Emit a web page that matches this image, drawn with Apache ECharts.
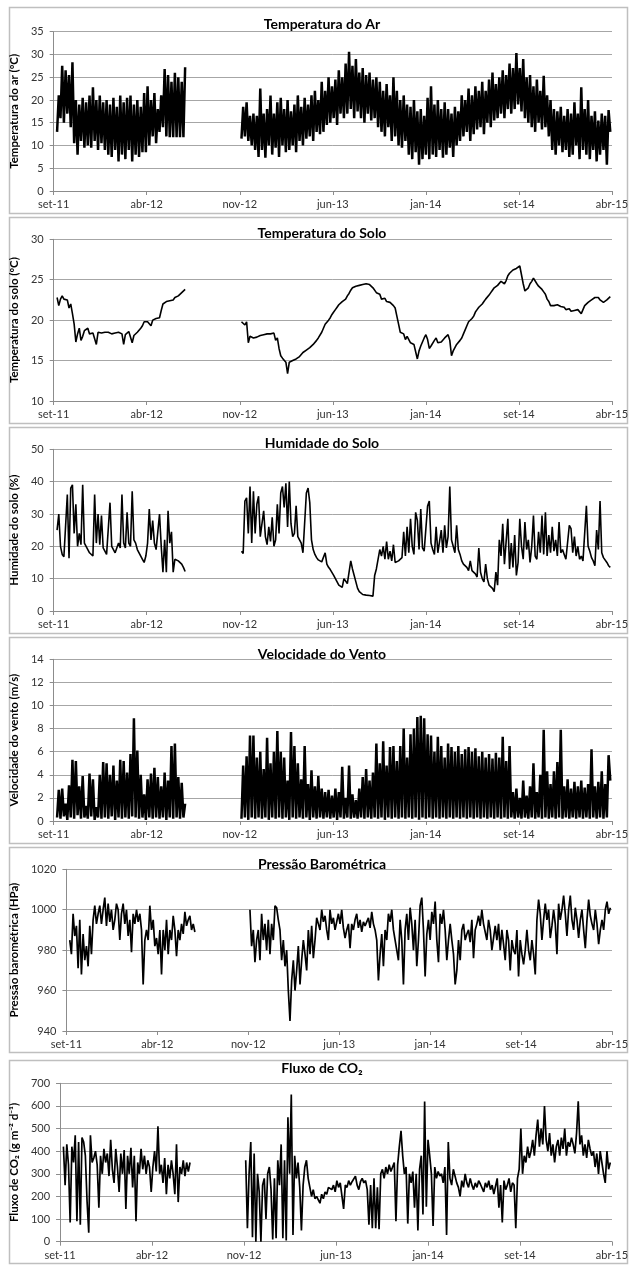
<!DOCTYPE html>
<html>
<head>
<meta charset="utf-8">
<script src="https://cdn.jsdelivr.net/npm/echarts@6/dist/echarts.min.js"></script>
<style>
html,body{margin:0;padding:0;background:#fff;}
#chart{width:633px;height:1265px;}
</style>
</head>
<body>
<div id="chart"></div>
<script>
// ---------------- DATA ----------------
// x axis: days since start of record (set-11); one tick every 218 days
const xTickLabels = ['set-11', 'abr-12', 'nov-12', 'jun-13', 'jan-14', 'set-14', 'abr-15'];
const tickDays = 218;
// sampling of the series: every 4 days, first block starts day 8, second block day 440
const startA = 8, startB = 440, stepDays = 4;

const titles = ['Temperatura do Ar', 'Temperatura do Solo', 'Humidade do Solo', 'Velocidade do Vento', 'Pressão Barométrica', 'Fluxo de CO₂'];
const yNames = ['Temperatura do ar (ºC)', 'Temperatura do solo (ºC)', 'Humidade do solo (%)', 'Velocidade do vento (m/s)', 'Pressão barométrica (HPa)', 'Fluxo de CO₂ (g m⁻² d⁻¹)'];
const yMin = [0, 10, 0, 0, 940, 0];
const yMax = [35, 30, 50, 14, 1020, 700];
const yStep = [5, 5, 10, 2, 20, 100];

const airTempA = [13,21,16,27.5,15,26.5,17,25.5,14,28.3, 10.5,20,8,19,11,20.5,9.5,19.5,10,21, 9.5,22.8,11,20,9,21,10.5,19.5,9,20,
  8,19,7.5,20.5,9,18.5,6.5,21,8,19.5, 7,20.5,9,21,6.5,19,8,20,7.5,18.5, 8.5,21.5,8.5,23,10,20,12,21.5,10.5,18,
  13,21,14,26.8,12,25.5,11.8,24,11.8,26, 11.8,25,11.8,24,11.8,27.2];
const airTempB = [11.5,18.5,12,19.5,11,16.5,10,17,9,16.5, 7.5,22.5,9,17,7.3,18,10,21,8,17, 9.5,19.5,7.5,20.5,10,18,8.5,20,9,17.5,
  10,19,8.5,21,11,18.5,10,20.5,11.5,19, 12,21,11,22,13,20,12.5,24,13,22, 14.5,25,15,23,16,24.5,14.5,26.5,17,25,
  16,28,17,30.6,18,27.5,16,29,17.5,26, 16,27,15,25.5,17,26,15.5,24.5,16,25, 14,24,13,22,12,23.5,14,21,11,25,
  12,22,10,20,9.5,21,11,19,8,18.5, 7,20,8.5,17.5,5.8,18,7,16.5,8,20.5, 7,23,8,19,7.5,20,9,18,7.3,19.5,
  8,18,9.5,17,7.5,18.5,10,17.5,11,21, 12,20,13,22.5,11,21,12.5,23,13.5,22, 14,24,12.5,22,15,24.5,14,26,15.5,23.5,
  16,25,17,26.5,16,25.5,18,28,17,27, 18,30.3,19,27,17.5,29,16,25,15,25.5, 14,23,13,24.5,15,22,13.5,25.3,14,21,
  12,20,9,18,8,17.5,10,18.5,8.5,16.5, 9,18,7.5,17,8,19.5,10,17,7,22.8, 9,18,8,20,7,16.5,9,17.5,6.5,15.5,
  8,17,9,16.5,5.8,17.8,13];

const soilTempA = [22.8,21.8,22.6,23,22.6,22.7,22.5,21.5,22,20.8, 19.5,17.3,18.3,19,17.5,18,18.7,18.5,19,18.3,
  18.5,18.4,18.6,17,18.5,18.5,18.4,18.3,18.5,18.4, 18.5,18.6,18.3,18.5,18.4,18.6,18.5,18.4,18.3,17,
  18.2,18.4,18.6,18.4,17.2,18.1,18.3,18.5,18.6,19, 19.3,19.8,20,19.8,19.9,19.3,20,20.1,20.2,20.1,
  20.3,21.2,22,22.1,22.3,22.2,22.4,22.6,22.5,22.8, 22.9,23,23.2,23.4,23.6,23.8];
const soilTempB = [19.8,19.9,19.4,19.8,17.2,18,17.9,17.8,18,17.9, 18,18.1,18,18.2,18.1,18.3,18.2,18.3,18.4,18.4,
  17.5,17.8,16.5,15.6,15.3,15.2,14.8,13.4,14.8,14.9, 15,15,15.2,15.4,15.5,15.7,16,16.2,16.3,16.5,
  16.6,16.8,17,17.2,17.5,17.8,18,18.5,19,19.5, 19.7,20,20.3,20.7,21,21.3,21.6,21.9,22.1,22.3,
  22.4,22.6,23,23.3,23.7,24,24.1,24.2,24.2,24.3, 24.3,24.4,24.4,24.5,24.5,24.4,24.3,24,23.8,23.4,
  23.3,23.2,22.6,22.5,22.7,22.3,22.4,22.2,22.1,21.8, 21.5,20.5,19.5,18.5,18.7,18.3,17.6,18,17.8,17.2,
  17.4,17,17.2,15.2,16.2,16.8,17.3,17.8,18.2,17.6, 16.5,16.8,17,17.5,17.8,17.2,17,17.3,17.5,17.8,
  18,18.2,17.5,15.6,16.2,16.6,17,17.2,17.5,17.8, 18.3,18.8,19.3,19.8,20,20.2,20.5,21,21.3,21.6,
  21.8,22,22.3,22.6,22.8,23.1,23.4,23.7,24,24, 24.3,24.5,24.8,24.6,24.5,24.9,25.5,25.8,26,26.2,
  26.3,26.4,26.6,26.7,26.7,24.5,23.6,23.8,24,24.5, 24.8,25.2,25,24.5,24.2,24,23.8,23.5,23.2,22.6,
  22.3,21.8,21.9,21.8,22,21.9,21.8,21.7,21.5,21.6, 21.3,21.2,21.4,21.1,21,21.2,21.1,21.3,21.2,20.8,
  21,21.8,22,22.2,22.4,22.5,22.6,22.8,22.7,22.8, 22.5,22.3,22.2,22.4,22.5,22.7,22.9];

const soilMoistA = [25,30,20,17.5,16.8,16.5,36,16.3,38,39, 24,33,20,24,20.5,39,21,20,19,18,
  17.5,17,36,21,30,20.5,29.5,19.5,18.5,17.5, 17,33.5,20,19,18,17.5,21,19.5,36,21,
  19.5,30.5,21,20,37,22,21,19,18,17, 16,15,17,21,31.5,22,28,21,19,18.5,
  30,20,12,22,12,31,21,24.5,12,16, 15.8,15.5,15,14.5,13.5,12.2];
const soilMoistB = [18.5,17.8,34,35,24,38.5,21,37,24,33, 35.5,23,22.5,31,23,20.5,26,21.5,29,20,
  22,33,24,36.5,38.5,32,39.5,26,40,27, 23,24,32.5,23,22,21,18,17.5,36.5,38,
  33.5,22,19,17.5,16.5,15.8,15.5,15.2,15,18, 14.5,13.5,12.8,12.5,11,10,9,8,7.6,7.3,
  10,9.5,8.5,8,15.5,13,13.5,9,7,6, 5.5,5.1,5,4.9,4.8,4.8,4.7,4.6,11,13,
  12.5,19,17,20,16,21.5,16,18.5,15.5,20.5, 15,14.5,15.5,16,16.5,24.5,17,26,18,28.5,
  20,17.5,30.5,28,19,31.5,19.5,18.5,19,32.5, 34,21,19,17.5,26,18,17.5,25,18,26.5,
  19.5,23,38.5,22,20,18,26.5,19,17.5,15.5, 14.5,14,13.5,12.5,15.5,12.5,12,11.5,10.5,19.5,
  12,10,9,14.5,10,8,7.5,7,6,12, 8,22,17,27,14.5,15,28.5,13,21,13.5,
  23.5,11,15,28.5,20,16,27.5,19,22,15, 20,29.5,17,16,24.5,18,29.5,17.5,30.5,17,
  23.5,18,26,18.5,22,17,27.5,18,19,17.5, 16,15.5,26.5,25.5,18,23,17,20,16,17,
  15.5,15.2,32.5,20,18.5,16.5,15.5,14,25,19, 34,18,16.5,16,15,14,13.5];

const windA = [0.3,2.7,0.2,2.8,0.4,1.5,0.1,3.1,0.3,5.3, 0.2,5.2,0.5,3.0,0.2,3.9,0.3,1.3,0.2,4.1,
  0.4,3.6,0.1,1.2,0.3,4.0,0.2,5.1,0.3,5.0, 0.2,4.0,0.4,4.8,0.1,3.5,0.3,5.3,0.2,5.2,
  0.3,4.2,0.2,5.8,0.4,8.9,0.3,6.1,0.2,4.0, 0.3,2.3,0.1,3.6,0.3,4.1,0.2,4.6,0.3,3.8,
  0.2,3.0,0.3,4.2,0.1,3.5,0.3,6.5,0.2,6.7, 0.3,3.8,0.2,3.3,0.3,1.5];
const windB = [0.2,4.8,0.3,5.6,0.1,7.4,0.3,7.4,0.2,5.5, 0.3,6.0,0.2,4.5,0.3,7.2,0.1,5.0,0.3,6.0,
  0.2,7.8,0.3,6.0,0.2,5.5,0.3,3.5,0.1,7.7, 0.3,6.5,0.2,5.0,0.3,3.6,0.2,6.5,0.3,3.2,
  0.1,4.4,0.3,3.0,0.2,3.9,0.3,2.8,0.2,2.5, 0.3,2.7,0.2,2.2,0.3,2.8,0.1,2.5,0.3,4.7,
  0.2,2.0,0.3,4.8,0.2,2.3,0.3,1.8,0.2,2.8, 0.3,3.8,0.2,4.5,0.3,3.5,0.2,4.2,0.3,6.7,
  0.2,5.0,0.3,6.9,0.1,4.8,0.3,6.4,0.2,6.5, 0.3,5.2,0.2,6.5,0.3,8.0,0.2,5.5,0.3,7.5,
  0.2,8.0,0.3,9.0,0.1,9.1,0.3,8.9,0.2,7.5, 0.3,7.4,0.2,6.0,0.3,7.3,0.2,6.5,0.3,5.5,
  0.2,6.7,0.3,6.4,0.2,6.0,0.3,6.5,0.2,5.8, 0.3,6.2,0.2,6.4,0.3,6.0,0.2,6.3,0.3,5.6,
  0.2,6.0,0.3,5.5,0.2,5.8,0.3,5.4,0.2,5.9, 0.3,5.5,0.2,7.3,0.3,5.2,0.2,6.5,0.3,2.5,
  0.2,2.8,0.3,2.0,0.2,3.5,0.3,2.2,0.2,3.0, 0.3,5.0,0.2,2.5,0.3,4.0,0.2,7.9,0.3,4.3,
  0.2,3.2,0.3,4.3,0.2,5.1,0.3,7.9,0.2,3.0, 0.3,3.6,0.2,2.8,0.3,3.4,0.2,3.0,0.3,3.5,
  0.2,2.9,0.3,3.2,0.2,6.2,0.3,3.0,0.2,3.4, 0.3,4.3,0.2,3.2,0.3,5.7,3.5];

const pressureA = [985,978,998,987,992,971,995,968,988,975, 982,972,992,978,995,1002,993,998,1002,993,
  1000,1006,992,1003,994,1000,990,995,1003,1000, 985,998,1003,993,1000,987,995,979,998,993,
  1000,994,998,990,963,985,990,985,1002,990, 995,982,986,978,990,968,990,980,995,978,
  990,985,997,990,977,990,985,993,988,999, 992,995,997,990,993,989];
const pressureB = [1000,982,990,974,985,990,975,998,985,993, 980,995,978,993,985,1002,1001,995,990,975,
  985,972,980,960,945,965,975,960,970,982, 963,975,985,978,970,990,978,992,976,985,
  996,993,990,1000,994,997,990,985,1000,993, 996,990,994,998,993,1000,991,986,990,993,
  981,993,990,995,998,991,995,989,994,992, 994,996,991,999,993,990,985,965,978,988,
  972,990,985,998,994,1000,990,985,980,975, 995,985,963,990,998,985,1001,993,980,995,
  972,985,1002,1006,990,967,988,995,985,999, 993,1004,985,974,998,993,1000,990,975,985,
  993,985,978,963,970,985,975,990,993,985, 988,990,984,995,976,990,993,997,992,1000,
  993,993,985,995,990,980,986,992,985,993, 980,990,983,975,990,985,970,985,980,978,
  990,967,985,978,973,980,990,980,975,985, 978,968,995,1005,998,985,995,1003,995,1000,
  986,992,1000,993,978,1003,995,1000,1007,998, 987,1000,1007,995,990,1001,995,986,995,1000,
  990,981,995,1005,997,993,990,1000,993,983, 990,995,990,1000,1004,998,1001];

const co2A = [420,250,430,340,85,420,350,470,90,440, 75,460,440,380,180,40,470,350,370,400,
  340,150,380,300,410,350,390,290,450,320, 260,410,330,220,390,300,405,145,380,300,
  415,240,380,90,350,300,410,320,380,300, 360,330,220,330,400,310,510,300,340,260,
  370,210,340,280,360,300,210,430,175,330, 300,360,290,350,310,350];
const co2B = [360,60,300,440,20,390,0,300,220,0, 250,280,100,300,330,230,10,280,15,360,
  250,430,15,360,5,550,300,650,30,380, 280,350,240,50,250,330,360,280,240,200,
  230,190,200,185,170,210,190,220,210,240, 235,230,250,220,270,240,260,255,145,250,
  240,270,250,265,260,290,250,230,265,280, 260,270,230,75,250,60,280,60,240,55,
  300,320,280,330,300,340,310,330,350,90, 340,420,490,380,300,330,80,300,260,310,
  150,300,50,320,380,120,620,155,450,380, 300,70,330,280,310,290,300,260,330,30,
  440,280,250,320,290,260,240,200,270,240, 300,260,240,280,250,230,260,240,270,255,
  250,220,260,240,270,230,250,210,245,280, 150,250,85,270,230,250,280,220,260,250,
  60,280,320,500,300,380,350,420,370,400, 450,380,470,540,420,500,430,600,450,400,
  480,380,430,350,420,450,380,460,410,500, 380,440,420,460,430,390,480,620,430,470,
  380,430,370,450,410,380,400,330,390,300, 400,350,300,260,400,320,350];

const seriesA = [airTempA, soilTempA, soilMoistA, windA, pressureA, co2A];
const seriesB = [airTempB, soilTempB, soilMoistB, windB, pressureB, co2B];

// ---------------- LAYOUT ----------------
const plotRight = 612;
const layout = [
  {left: 49.3, top: 31.7, bottom: 191,   box: [7, 213],     titleY: 25,    nameGap: 21, lw: 2.5},
  {left: 49.3, top: 239.3, bottom: 401,  box: [217, 423],   titleY: 234,   nameGap: 21, lw: 1.6},
  {left: 49.3, top: 449.3, bottom: 611,  box: [427, 633],   titleY: 444.7, nameGap: 21, lw: 1.6},
  {left: 49.3, top: 659.3, bottom: 821,  box: [637, 843],   titleY: 655,   nameGap: 21, lw: 2.5},
  {left: 62.7, top: 869.3, bottom: 1031, box: [847, 1052],  titleY: 865.7, nameGap: 34, lw: 1.7},
  {left: 52.7, top: 1083.3, bottom: 1241.7, box: [1060, 1263], titleY: 1069, nameGap: 24, lw: 1.7}
];

const labelFont = "'Liberation Sans Narrow', 'Lato', sans-serif";
const boldFont = "'Lato', 'DejaVu Sans', sans-serif";
const gridColor = '#a6a6a6';
const axisColor = '#8c8c8c';

function buildData(a, b) {
  const out = [];
  a.forEach((v, i) => out.push([startA + stepDays * i, v]));
  out.push([startA + stepDays * a.length + 60, null]);
  b.forEach((v, i) => out.push([startB + stepDays * i, v]));
  return out;
}

const option = {
  animation: false,
  backgroundColor: '#ffffff',
  title: layout.map((p, i) => ({
    text: titles[i],
    left: 322, top: p.titleY - 8, textAlign: 'center', padding: 0,
    textStyle: {fontFamily: boldFont, fontWeight: 'bold', fontSize: 14, color: '#000'}
  })),
  graphic: layout.map(p => ({
    type: 'rect', z: -1, silent: true,
    shape: {x: 9.5, y: p.box[0] + 0.5, width: 618, height: p.box[1] - p.box[0]},
    style: {fill: 'none', stroke: '#bfbfbf', lineWidth: 1.5}
  })),
  grid: layout.map(p => ({
    left: p.left, top: p.top, width: plotRight - p.left, height: p.bottom - p.top, containLabel: false
  })),
  xAxis: layout.map((p, i) => ({
    gridIndex: i, type: 'value', min: 0, max: tickDays * (xTickLabels.length - 1), interval: tickDays,
    axisLine: {show: true, onZero: false, lineStyle: {color: axisColor, width: 1}},
    axisTick: {show: true, length: 4, lineStyle: {color: axisColor}},
    axisLabel: {formatter: v => xTickLabels[Math.round(v / tickDays)], fontSize: 11, color: '#333', margin: 8, fontFamily: labelFont, showMinLabel: true, showMaxLabel: true},
    splitLine: {show: false}
  })),
  yAxis: layout.map((p, i) => ({
    gridIndex: i, type: 'value', min: yMin[i], max: yMax[i], interval: yStep[i],
    name: yNames[i], nameLocation: 'middle', nameGap: p.nameGap, nameRotate: 90,
    nameTextStyle: {fontFamily: boldFont, fontWeight: 'bold', fontSize: 11.5, color: '#000'},
    axisLine: {show: true, lineStyle: {color: axisColor, width: 1}},
    axisTick: {show: true, length: 4, lineStyle: {color: axisColor}},
    axisLabel: {fontSize: 11, color: '#333', margin: 10, fontFamily: labelFont, formatter: v => String(v)},
    splitLine: {show: true, lineStyle: {color: gridColor, width: 1}}
  })),
  series: layout.map((p, i) => ({
    type: 'line', xAxisIndex: i, yAxisIndex: i,
    data: buildData(seriesA[i], seriesB[i]),
    showSymbol: false, symbol: 'none', connectNulls: false, sampling: null,
    lineStyle: {color: '#000', width: p.lw, join: 'bevel'},
    itemStyle: {color: '#000'}
  }))
};

const chart = echarts.init(document.getElementById('chart'), null, {renderer: 'canvas'});
chart.setOption(option);
</script>
</body>
</html>
